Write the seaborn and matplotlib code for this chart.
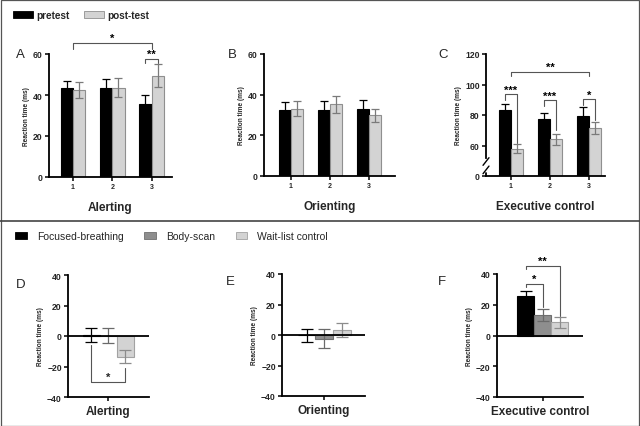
import pandas as pd
import seaborn as sns
import numpy as np
import matplotlib.pyplot as plt
from matplotlib.patches import Patch, Rectangle
from matplotlib.lines import Line2D

# ---- data ----
sessions = ['1', '2', '3']
times = ['pretest', 'post-test']

alert_pre = [43.5, 43.5, 35.5]
alert_pre_se = [3.3, 4.5, 4.5]
alert_post = [42.5, 43.5, 49.5]
alert_post_se = [3.8, 4.7, 5.5]

orient_pre = [32.5, 32.3, 33.0]
orient_pre_se = [4.0, 4.7, 4.3]
orient_post = [33.0, 35.2, 29.8]
orient_post_se = [3.7, 4.2, 3.3]

exec_pre = [83.0, 77.5, 79.5]
exec_pre_se = [4.5, 3.8, 5.5]
exec_post = [58.0, 64.0, 71.5]
exec_post_se = [3.2, 3.5, 4.2]

groups = ['Focused-breathing', 'Body-scan', 'Wait-list control']
alert_change = [0.5, 0.3, -13.5]
alert_change_se = [4.5, 5.2, 4.0]
orient_change = [-0.3, -2.5, 3.5]
orient_change_se = [4.5, 6.2, 4.5]
exec_change = [25.5, 13.5, 8.5]
exec_change_se = [3.7, 3.8, 3.5]

# colours
pre_col, post_col = '#000000', '#d3d3d3'
pre_edge, post_edge = '#000000', '#8f8f8f'
pre_err, post_err = '#000000', '#7a7a7a'
grp_cols = ['#000000', '#8e8e8e', '#d3d3d3']
grp_edges = ['#000000', '#6f6f6f', '#a2a2a2']
grp_err = ['#000000', '#6a6a6a', '#8c8c8c']
brk_col = '#555555'

sns.set_style('ticks')
plt.rcParams['font.family'] = ['Liberation Sans', 'DejaVu Sans']

W, H = 640, 427
fig = plt.figure(figsize=(6.4, 4.27), dpi=100)


def add_ax(left, right, top, bottom):
    return fig.add_axes([left / W, 1 - bottom / H, (right - left) / W, (bottom - top) / H])


def style_ax(ax):
    for s in ['top', 'right']:
        ax.spines[s].set_visible(False)
    for s in ['left', 'bottom']:
        ax.spines[s].set_linewidth(1.3)
        ax.spines[s].set_color('black')
    ax.tick_params(axis='both', direction='out', length=3, width=1.1, color='black', pad=1.5)
    ax.tick_params(axis='y', labelsize=6.2)
    ax.tick_params(axis='x', labelsize=5.0)
    for lab in ax.get_yticklabels() + ax.get_xticklabels():
        lab.set_fontweight('bold')
    ax.set_ylabel('Reaction time (ms)', fontsize=4.7, fontweight='bold', labelpad=2)


def bracket(ax, x1, x2, y, y1, y2, text):
    ax.plot([x1, x1, x2, x2], [y1, y, y, y2], color=brk_col, lw=0.8, clip_on=False)
    ax.text((x1 + x2) / 2, y, text, ha='center', va='bottom', fontsize=8,
            fontweight='bold', color='black', clip_on=False)


def session_panel(ax, pre, pre_se, post, post_se, xlim, xlabel):
    df = pd.DataFrame({
        'session': sessions * 2,
        'time': [times[0]] * 3 + [times[1]] * 3,
        'rt': pre + post,
    })
    sns.barplot(data=df, x='session', y='rt', hue='time', hue_order=times,
                palette=[pre_col, post_col], width=0.63, errorbar=None,
                legend=False, ax=ax, linewidth=0.8)
    centres = []
    for cont, errs, ec, ecol in zip(ax.containers, [pre_se, post_se],
                                    [pre_edge, post_edge], [pre_err, post_err]):
        xs = []
        for bar, e in zip(cont, errs):
            bar.set_edgecolor(ec)
            x = bar.get_x() + bar.get_width() / 2
            xs.append(x)
            ax.errorbar(x, bar.get_height(), yerr=e, color=ecol, lw=0.9,
                        capsize=2.8, capthick=0.9, zorder=3)
        centres.append(xs)
    ax.set_xlim(*xlim)
    ax.set_xlabel(xlabel, fontsize=8.5, fontweight='bold', labelpad=8)
    style_ax(ax)
    return centres


def change_panel(ax, vals, ses, task, xlim):
    df = pd.DataFrame({'task': [task] * 3, 'group': groups, 'rt': vals})
    sns.barplot(data=df, x='task', y='rt', hue='group', hue_order=groups,
                palette=grp_cols, width=0.8, errorbar=None, legend=False,
                ax=ax, linewidth=0.8)
    xs = []
    for cont, e, ec, ecol in zip(ax.containers, ses, grp_edges, grp_err):
        bar = cont[0]
        bar.set_edgecolor(ec)
        x = bar.get_x() + bar.get_width() / 2
        xs.append(x)
        ax.errorbar(x, bar.get_height(), yerr=e, color=ecol, lw=0.9,
                    capsize=4.2, capthick=0.9, zorder=3)
    ax.axhline(0, color='black', lw=1.3, zorder=4)
    ax.set_ylim(-40, 40)
    ax.set_yticks([-40, -20, 0, 20, 40])
    ax.set_xlim(*xlim)
    ax.set_xticks([0])
    ax.set_xticklabels([''])
    ax.set_xlabel(task, fontsize=8.5, fontweight='bold', labelpad=1)
    style_ax(ax)
    return xs


# ---- top row ----
axA = add_ax(49, 172, 55, 178)
cA = session_panel(axA, alert_pre, alert_pre_se, alert_post, alert_post_se, (-0.61, 2.52), 'Alerting')
axA.set_ylim(0, 60)
axA.set_yticks([0, 20, 40, 60])
bracket(axA, 0, 2, 65.4, 62.6, 62.6, '*')
bracket(axA, cA[0][2], cA[1][2], 57.6, 55.6, 55.6, '**')

axB = add_ax(264, 395, 55, 177)
session_panel(axB, orient_pre, orient_pre_se, orient_post, orient_post_se, (-0.69, 2.67), 'Orienting')
axB.set_ylim(0, 60)
axB.set_yticks([0, 20, 40, 60])

axC = add_ax(486, 605, 55, 177)
cC = session_panel(axC, exec_pre, exec_pre_se, exec_post, exec_post_se, (-0.64, 2.41), 'Executive control')
axC.set_ylim(40, 120)
axC.set_yticks([40, 60, 80, 100, 120])
axC.set_yticklabels(['0', '60', '80', '100', '120'])
for lab in axC.get_yticklabels():
    lab.set_fontweight('bold')
# broken y axis
axC.spines['left'].set_bounds(52, 120)
yt = axC.get_yaxis_transform()
axC.plot([0, 0], [40, 42], color='black', lw=1.3, transform=yt, clip_on=False)
axC.plot([-0.025, 0.025], [41.5, 46.5], color='black', lw=1.0, transform=yt, clip_on=False)
axC.plot([-0.025, 0.025], [47.0, 52.0], color='black', lw=1.0, transform=yt, clip_on=False)
bracket(axC, 0, 2, 108.3, 105.6, 105.6, '**')
bracket(axC, cC[0][0], cC[1][0], 93.5, 90.0, 61.5, '***')
bracket(axC, cC[0][1], cC[1][1], 89.6, 86.0, 70.0, '***')
bracket(axC, cC[0][2], cC[1][2], 90.2, 86.8, 76.5, '*')

# ---- bottom row ----
axD = add_ax(68, 149, 276, 398)
xD = change_panel(axD, alert_change, alert_change_se, 'Alerting', (-0.63, 0.64))
axD.plot([xD[0], xD[0], xD[2], xD[2]], [-6, -30, -30, -21], color=brk_col, lw=0.8)
axD.text((xD[0] + xD[2]) / 2, -30, '*', ha='center', va='bottom', fontsize=8, fontweight='bold')

axE = add_ax(282, 365, 275, 397)
change_panel(axE, orient_change, orient_change_se, 'Orienting', (-0.64, 0.62))

axF = add_ax(497, 583, 275, 398)
xF = change_panel(axF, exec_change, exec_change_se, 'Executive control', (-0.72, 0.63))
bracket(axF, xF[0], xF[1], 33.4, 31.5, 18.5, '*')
bracket(axF, xF[0], xF[2], 45.0, 43.0, 13.0, '**')

# ---- panel letters ----
for letter, x, y in [('A', 20, 55), ('B', 232, 55), ('C', 443, 55),
                     ('D', 21, 285), ('E', 230, 282), ('F', 442, 282)]:
    fig.text(x / W, 1 - y / H, letter, fontsize=9.5, ha='center', va='center')

# ---- legends ----
top_handles = [Patch(facecolor=pre_col, edgecolor=pre_edge, lw=0.6, label=times[0]),
               Patch(facecolor=post_col, edgecolor=post_edge, lw=0.6, label=times[1])]
leg1 = fig.legend(handles=top_handles, loc='center left', bbox_to_anchor=(4 / W, 1 - 16 / H),
                  ncol=2, frameon=False, handlelength=2.0, handleheight=0.8,
                  handletextpad=0.3, columnspacing=1.5, prop={'size': 7.2, 'weight': 'bold'})

bot_handles = [Patch(facecolor=c, edgecolor=e, lw=0.6, label=g)
               for c, e, g in zip(grp_cols, grp_edges, groups)]
leg2 = fig.legend(handles=bot_handles, loc='center left', bbox_to_anchor=(6 / W, 1 - 237 / H),
                  ncol=3, frameon=False, handlelength=1.15, handleheight=0.65,
                  handletextpad=0.9, columnspacing=2.0, prop={'size': 7.5})

# ---- frame and divider ----
fig.add_artist(Rectangle((0.5 / W, 0.5 / H), 1 - 1.5 / W, 1 - 1.5 / H, transform=fig.transFigure,
                         fill=False, edgecolor='#555555', lw=0.9))
fig.add_artist(Line2D([0, 1], [1 - 222 / H, 1 - 222 / H], transform=fig.transFigure,
                      color='#444444', lw=1.2))

fig.savefig('out.png', dpi=100)
